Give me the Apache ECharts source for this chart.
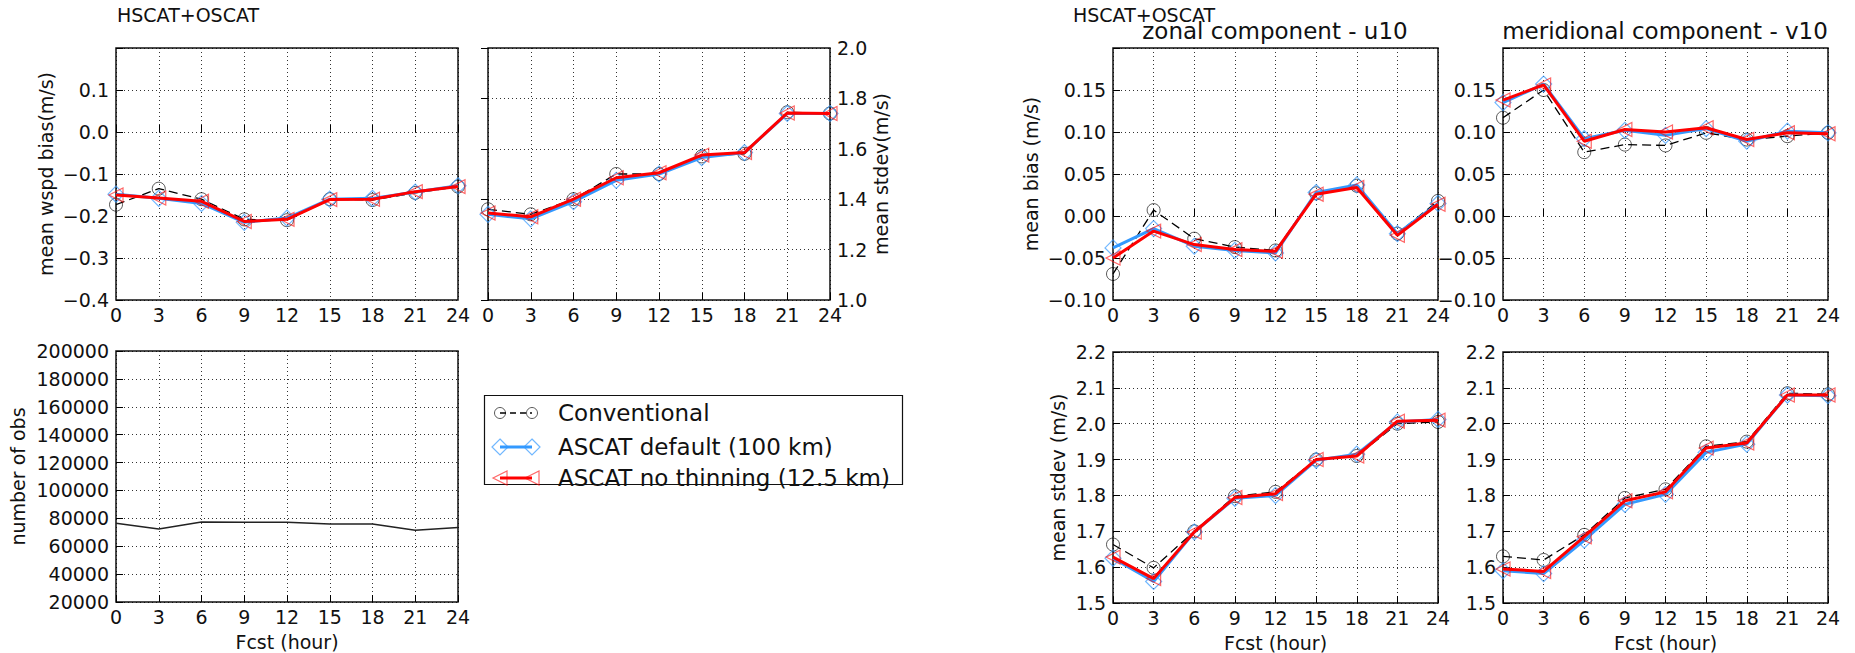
<!DOCTYPE html>
<html>
<head>
<meta charset="utf-8">
<script src="https://cdn.jsdelivr.net/npm/echarts@6/dist/echarts.min.js"></script>
<style>
html,body{margin:0;padding:0;background:#fff}
#main{width:1855px;height:653px}
</style>
</head>
<body>
<div id="main"></div>
<script>
var hours = [0, 3, 6, 9, 12, 15, 18, 21, 24];

// wind speed bias / stdev (left block)
var wspdBiasConv   = [-0.173, -0.135, -0.160, -0.208, -0.210, -0.160, -0.162, -0.145, -0.130];
var wspdBiasDef    = [-0.148, -0.158, -0.170, -0.215, -0.205, -0.160, -0.158, -0.143, -0.128];
var wspdBiasNoThin = [-0.150, -0.157, -0.165, -0.213, -0.208, -0.161, -0.160, -0.142, -0.130];

var wspdStdConv   = [1.360, 1.340, 1.400, 1.500, 1.500, 1.570, 1.580, 1.745, 1.740];
var wspdStdDef    = [1.340, 1.322, 1.390, 1.475, 1.500, 1.565, 1.585, 1.740, 1.740];
var wspdStdNoThin = [1.345, 1.330, 1.400, 1.485, 1.505, 1.575, 1.585, 1.742, 1.740];

var numObs = [76500, 72300, 77300, 77200, 77200, 75900, 75900, 71400, 73500];

// u10 / v10 (right block)
var u10BiasConv   = [-0.069, 0.007, -0.027, -0.037, -0.041, 0.027, 0.036, -0.021, 0.018];
var u10BiasDef    = [-0.038, -0.015, -0.036, -0.041, -0.044, 0.028, 0.037, -0.021, 0.015];
var u10BiasNoThin = [-0.050, -0.018, -0.034, -0.040, -0.042, 0.026, 0.034, -0.023, 0.014];

var v10BiasConv   = [0.117, 0.150, 0.076, 0.085, 0.084, 0.099, 0.091, 0.095, 0.099];
var v10BiasDef    = [0.135, 0.157, 0.092, 0.102, 0.096, 0.104, 0.089, 0.101, 0.099];
var v10BiasNoThin = [0.138, 0.156, 0.089, 0.103, 0.100, 0.105, 0.091, 0.099, 0.098];

var u10StdConv   = [1.663, 1.598, 1.700, 1.798, 1.810, 1.900, 1.910, 2.000, 2.005];
var u10StdDef    = [1.625, 1.560, 1.698, 1.792, 1.800, 1.898, 1.915, 2.005, 2.012];
var u10StdNoThin = [1.628, 1.568, 1.698, 1.794, 1.805, 1.900, 1.910, 2.007, 2.010];

var v10StdConv   = [1.630, 1.620, 1.690, 1.793, 1.817, 1.937, 1.950, 2.085, 2.082];
var v10StdDef    = [1.590, 1.582, 1.675, 1.775, 1.803, 1.920, 1.943, 2.080, 2.078];
var v10StdNoThin = [1.595, 1.588, 1.685, 1.785, 1.810, 1.932, 1.946, 2.080, 2.080];

var seriesNames = ['Conventional', 'ASCAT default (100 km)', 'ASCAT no thinning (12.5 km)'];

var FONT = 'DejaVu Sans';
var TXT = '#111';

function pairs(arr) {
  return hours.map(function (h, i) { return [h, arr[i]]; });
}

// label formatter, matplotlib style minus sign, optionally hide the top label
function fmt(dec, hideTop) {
  return function (v) {
    if (hideTop != null && v > hideTop - 1e-9) return '';
    if (Math.abs(v) < 1e-9) v = 0;
    return v.toFixed(dec).replace('-', '\u2212');
  };
}

// panels: grid box + y axis setup
var panels = [
  {left: 116,  top: 48,  width: 342, height: 252, min: -0.4, max: 0.2, step: 0.1, dec: 1, hideTop: 0.2,
   yName: 'mean wspd bias(m/s)', yGap: 61, pos: 'left', xName: ''},
  {left: 488,  top: 48,  width: 342, height: 252, min: 1.0, max: 2.0, step: 0.2, dec: 1, hideTop: null,
   yName: 'mean stdev(m/s)', yGap: 40, pos: 'right', xName: ''},
  {left: 116,  top: 351, width: 342, height: 251, min: 20000, max: 200000, step: 20000, dec: 0, hideTop: null,
   yName: 'number of obs', yGap: 89, pos: 'left', xName: 'Fcst (hour)'},
  {left: 1113, top: 48,  width: 325, height: 252, min: -0.10, max: 0.20, step: 0.05, dec: 2, hideTop: 0.2,
   yName: 'mean bias (m/s)', yGap: 73, pos: 'left', xName: ''},
  {left: 1503, top: 48,  width: 325, height: 252, min: -0.10, max: 0.20, step: 0.05, dec: 2, hideTop: 0.2,
   yName: '', yGap: 0, pos: 'left', xName: ''},
  {left: 1113, top: 352, width: 325, height: 251, min: 1.5, max: 2.2, step: 0.1, dec: 1, hideTop: null,
   yName: 'mean stdev (m/s)', yGap: 46, pos: 'left', xName: 'Fcst (hour)'},
  {left: 1503, top: 352, width: 325, height: 251, min: 1.5, max: 2.2, step: 0.1, dec: 1, hideTop: null,
   yName: '', yGap: 0, pos: 'left', xName: 'Fcst (hour)'}
];

var gridLine = {show: true, lineStyle: {color: '#000', width: 1, type: [1, 3], opacity: 0.8}};
var tick = {show: true, inside: true, length: 7, lineStyle: {color: '#000', width: 1}};

var grids = [], xAxes = [], yAxes = [];
panels.forEach(function (p, i) {
  grids.push({left: p.left, top: p.top, width: p.width, height: p.height,
    show: true, borderColor: '#111', borderWidth: 1.5, backgroundColor: '#fff', containLabel: false});
  xAxes.push({gridIndex: i, type: 'value', min: 0, max: 24, interval: 3,
    axisLine: {show: false}, axisTick: tick, splitLine: gridLine,
    axisLabel: {fontSize: 19, fontFamily: FONT, color: TXT, margin: 5},
    name: p.xName, nameLocation: 'middle', nameGap: 30,
    nameTextStyle: {fontSize: 19, fontFamily: FONT, color: TXT}});
  yAxes.push({gridIndex: i, type: 'value', min: p.min, max: p.max, interval: p.step, position: p.pos,
    axisLine: {show: false}, axisTick: tick, splitLine: gridLine,
    axisLabel: {fontSize: 19, fontFamily: FONT, color: TXT, margin: 7, formatter: fmt(p.dec, p.hideTop)},
    name: p.yName, nameLocation: 'middle', nameGap: p.yGap,
    nameTextStyle: {fontSize: 19, fontFamily: FONT, color: TXT}});
});

function convSeries(idx, arr) {
  return {name: seriesNames[0], type: 'line', xAxisIndex: idx, yAxisIndex: idx, data: pairs(arr),
    symbol: 'circle', symbolSize: 13, z: 3,
    lineStyle: {color: '#000', width: 1.3, type: [9, 5]},
    itemStyle: {color: 'rgba(0,0,0,0)', borderColor: 'rgba(0,0,0,0.65)', borderWidth: 1}};
}
function defSeries(idx, arr) {
  return {name: seriesNames[1], type: 'line', xAxisIndex: idx, yAxisIndex: idx, data: pairs(arr),
    symbol: 'diamond', symbolSize: 16, z: 4,
    lineStyle: {color: '#3399ff', width: 3},
    itemStyle: {color: 'rgba(0,0,0,0)', borderColor: 'rgba(51,153,255,0.7)', borderWidth: 1.2}};
}
function noThinSeries(idx, arr) {
  return {name: seriesNames[2], type: 'line', xAxisIndex: idx, yAxisIndex: idx, data: pairs(arr),
    symbol: 'triangle', symbolSize: 14, symbolRotate: 90, z: 5,
    lineStyle: {color: '#ff0000', width: 3},
    itemStyle: {color: 'rgba(0,0,0,0)', borderColor: 'rgba(255,0,0,0.6)', borderWidth: 1.2}};
}

var series = [];
[[0, wspdBiasConv, wspdBiasDef, wspdBiasNoThin],
 [1, wspdStdConv, wspdStdDef, wspdStdNoThin],
 [3, u10BiasConv, u10BiasDef, u10BiasNoThin],
 [4, v10BiasConv, v10BiasDef, v10BiasNoThin],
 [5, u10StdConv, u10StdDef, u10StdNoThin],
 [6, v10StdConv, v10StdDef, v10StdNoThin]].forEach(function (s) {
  series.push(convSeries(s[0], s[1]), defSeries(s[0], s[2]), noThinSeries(s[0], s[3]));
});
series.push({name: 'number of obs', type: 'line', xAxisIndex: 2, yAxisIndex: 2, data: pairs(numObs),
  symbol: 'none', lineStyle: {color: '#222', width: 1.5}});

// legend drawn by hand, matplotlib style (two markers per entry)
var lx1 = 500, lx2 = 532, rows = [413, 447, 478];
function diamond(cx, cy, r) { return [[cx, cy - r], [cx + r, cy], [cx, cy + r], [cx - r, cy]]; }
function triLeft(cx, cy, r) { return [[cx - r, cy], [cx + r, cy - r], [cx + r, cy + r]]; }
var legendEls = [
  {type: 'rect', shape: {x: 484.5, y: 395.5, width: 418, height: 89}, style: {fill: '#fff', stroke: '#111', lineWidth: 1.2}},
  {type: 'line', shape: {x1: lx1, y1: rows[0], x2: lx2, y2: rows[0]}, style: {stroke: '#000', lineWidth: 1.3, lineDash: [6, 4]}},
  {type: 'circle', shape: {cx: lx1, cy: rows[0], r: 5.5}, style: {fill: 'none', stroke: 'rgba(0,0,0,0.65)', lineWidth: 1}},
  {type: 'circle', shape: {cx: lx2, cy: rows[0], r: 5.5}, style: {fill: 'none', stroke: 'rgba(0,0,0,0.65)', lineWidth: 1}},
  {type: 'line', shape: {x1: lx1, y1: rows[1], x2: lx2, y2: rows[1]}, style: {stroke: '#3399ff', lineWidth: 3}},
  {type: 'polygon', shape: {points: diamond(lx1, rows[1], 8)}, style: {fill: 'none', stroke: 'rgba(51,153,255,0.7)', lineWidth: 1.2}},
  {type: 'polygon', shape: {points: diamond(lx2, rows[1], 8)}, style: {fill: 'none', stroke: 'rgba(51,153,255,0.7)', lineWidth: 1.2}},
  {type: 'line', shape: {x1: lx1, y1: rows[2], x2: lx2, y2: rows[2]}, style: {stroke: '#ff0000', lineWidth: 3}},
  {type: 'polygon', shape: {points: triLeft(lx1, rows[2], 7)}, style: {fill: 'none', stroke: 'rgba(255,0,0,0.6)', lineWidth: 1.2}},
  {type: 'polygon', shape: {points: triLeft(lx2, rows[2], 7)}, style: {fill: 'none', stroke: 'rgba(255,0,0,0.6)', lineWidth: 1.2}}
];
seriesNames.forEach(function (n, i) {
  legendEls.push({type: 'text', x: 558, y: rows[i],
    style: {text: n, fontSize: 23, fontFamily: FONT, fill: TXT, verticalAlign: 'middle'}});
});

var titleStyle = {fontFamily: FONT, fontWeight: 'normal', color: TXT};
var option = {
  animation: false,
  backgroundColor: '#fff',
  title: [
    {text: 'HSCAT+OSCAT', left: 117, top: 5, padding: 0, textStyle: Object.assign({fontSize: 19}, titleStyle)},
    {text: 'HSCAT+OSCAT', left: 1073, top: 5, padding: 0, textStyle: Object.assign({fontSize: 19}, titleStyle)},
    {text: 'zonal component - u10', left: 1275, top: 19, padding: 0, textAlign: 'center',
     textStyle: Object.assign({fontSize: 23}, titleStyle)},
    {text: 'meridional component - v10', left: 1665, top: 19, padding: 0, textAlign: 'center',
     textStyle: Object.assign({fontSize: 23}, titleStyle)}
  ],
  grid: grids,
  xAxis: xAxes,
  yAxis: yAxes,
  series: series,
  graphic: legendEls
};

var myChart = echarts.init(document.getElementById('main'), null, {renderer: 'svg'});
myChart.setOption(option);
</script>
</body>
</html>
